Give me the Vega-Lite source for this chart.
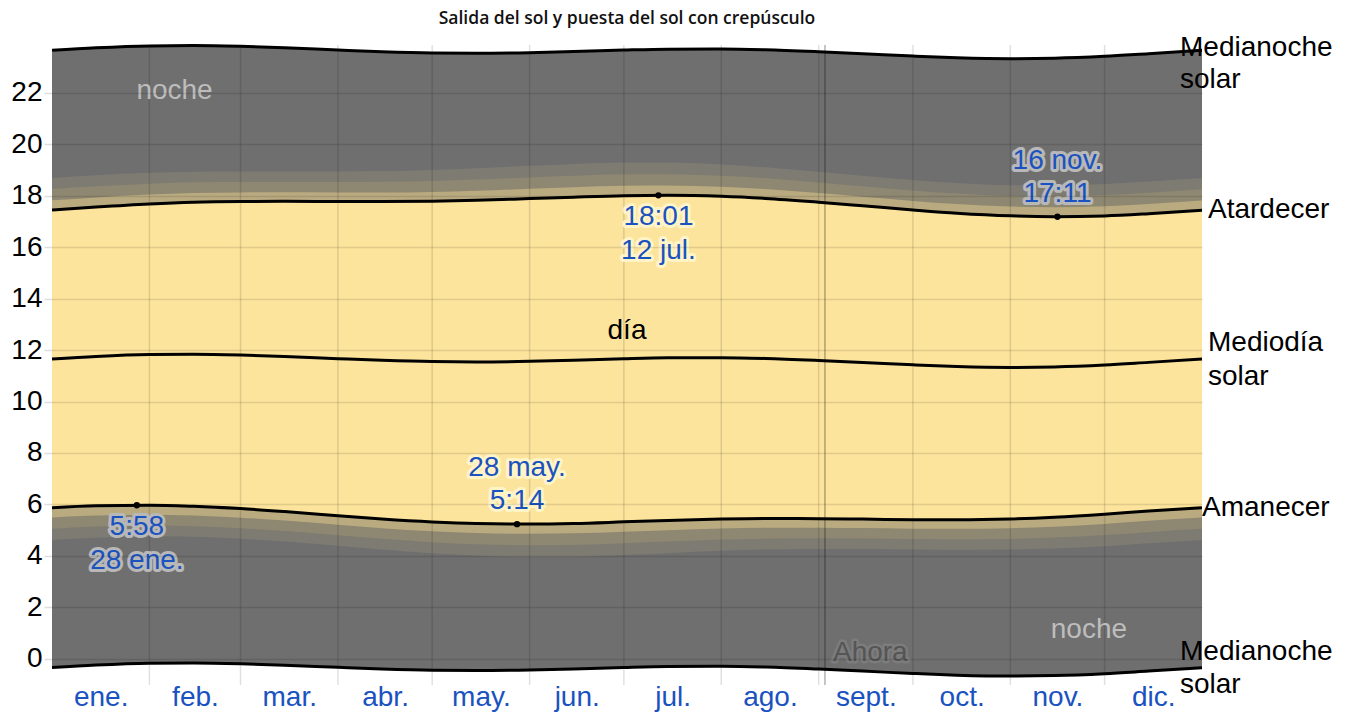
{
  "$schema": "https://vega.github.io/schema/vega-lite/v6.json",
  "width": 1150,
  "height": 640,
  "autosize": {"type": "none"},
  "padding": {"left": 52, "top": 45, "right": 152, "bottom": 27},
  "background": "white",
  "config": {"view": {"stroke": null}, "font": "Liberation Sans"},
  "title": {
    "text": "Salida del sol y puesta del sol con crepúsculo",
    "font": "Open Sans",
    "fontSize": 17.5,
    "fontWeight": 600,
    "color": "#111111",
    "anchor": "middle",
    "offset": 7
  },
  "datasets": {
    "sun": [
      {"date": "2024-01-01", "noon": 11.657, "sr": 5.873, "ss": 17.441, "cd": 5.494, "cu": 17.820, "nd": 5.056, "nu": 18.258, "ad": 4.620, "au": 18.694, "mlo": -0.343, "mhi": 23.657},
      {"date": "2024-01-15", "noon": 11.753, "sr": 5.946, "ss": 17.560, "cd": 5.572, "cu": 17.934, "nd": 5.139, "nu": 18.367, "ad": 4.709, "au": 18.797, "mlo": -0.247, "mhi": 23.753},
      {"date": "2024-02-01", "noon": 11.825, "sr": 5.968, "ss": 17.682, "cd": 5.603, "cu": 18.047, "nd": 5.181, "nu": 18.469, "ad": 4.760, "au": 18.890, "mlo": -0.175, "mhi": 23.825},
      {"date": "2024-02-15", "noon": 11.837, "sr": 5.925, "ss": 17.749, "cd": 5.568, "cu": 18.106, "nd": 5.154, "nu": 18.520, "ad": 4.741, "au": 18.933, "mlo": -0.163, "mhi": 23.837},
      {"date": "2024-03-01", "noon": 11.807, "sr": 5.837, "ss": 17.777, "cd": 5.485, "cu": 18.129, "nd": 5.077, "nu": 18.537, "ad": 4.669, "au": 18.945, "mlo": -0.193, "mhi": 23.807},
      {"date": "2024-03-15", "noon": 11.752, "sr": 5.721, "ss": 17.783, "cd": 5.371, "cu": 18.133, "nd": 4.965, "nu": 18.539, "ad": 4.559, "au": 18.945, "mlo": -0.248, "mhi": 23.752},
      {"date": "2024-04-01", "noon": 11.667, "sr": 5.559, "ss": 17.775, "cd": 5.208, "cu": 18.126, "nd": 4.800, "nu": 18.534, "ad": 4.390, "au": 18.944, "mlo": -0.333, "mhi": 23.667},
      {"date": "2024-04-15", "noon": 11.602, "sr": 5.432, "ss": 17.772, "cd": 5.077, "cu": 18.127, "nd": 4.662, "nu": 18.542, "ad": 4.245, "au": 18.959, "mlo": -0.398, "mhi": 23.602},
      {"date": "2024-05-01", "noon": 11.552, "sr": 5.319, "ss": 17.785, "cd": 4.955, "cu": 18.149, "nd": 4.531, "nu": 18.573, "ad": 4.103, "au": 19.001, "mlo": -0.448, "mhi": 23.552},
      {"date": "2024-05-15", "noon": 11.540, "sr": 5.258, "ss": 17.822, "cd": 4.887, "cu": 18.193, "nd": 4.452, "nu": 18.628, "ad": 4.012, "au": 19.068, "mlo": -0.460, "mhi": 23.540},
      {"date": "2024-06-01", "noon": 11.563, "sr": 5.238, "ss": 17.888, "cd": 4.858, "cu": 18.268, "nd": 4.413, "nu": 18.713, "ad": 3.961, "au": 19.165, "mlo": -0.437, "mhi": 23.563},
      {"date": "2024-06-15", "noon": 11.603, "sr": 5.260, "ss": 17.946, "cd": 4.876, "cu": 18.330, "nd": 4.426, "nu": 18.780, "ad": 3.968, "au": 19.238, "mlo": -0.397, "mhi": 23.603},
      {"date": "2024-07-01", "noon": 11.662, "sr": 5.322, "ss": 18.002, "cd": 4.939, "cu": 18.385, "nd": 4.489, "nu": 18.835, "ad": 4.033, "au": 19.291, "mlo": -0.338, "mhi": 23.662},
      {"date": "2024-07-15", "noon": 11.698, "sr": 5.379, "ss": 18.017, "cd": 5.000, "cu": 18.396, "nd": 4.556, "nu": 18.840, "ad": 4.106, "au": 19.290, "mlo": -0.302, "mhi": 23.698},
      {"date": "2024-08-01", "noon": 11.705, "sr": 5.433, "ss": 17.977, "cd": 5.064, "cu": 18.346, "nd": 4.632, "nu": 18.778, "ad": 4.195, "au": 19.215, "mlo": -0.295, "mhi": 23.705},
      {"date": "2024-08-15", "noon": 11.675, "sr": 5.454, "ss": 17.896, "cd": 5.092, "cu": 18.258, "nd": 4.670, "nu": 18.680, "ad": 4.245, "au": 19.105, "mlo": -0.325, "mhi": 23.675},
      {"date": "2024-09-01", "noon": 11.598, "sr": 5.447, "ss": 17.749, "cd": 5.093, "cu": 18.103, "nd": 4.681, "nu": 18.515, "ad": 4.267, "au": 18.929, "mlo": -0.402, "mhi": 23.598},
      {"date": "2024-09-15", "noon": 11.520, "sr": 5.429, "ss": 17.611, "cd": 5.079, "cu": 17.961, "nd": 4.672, "nu": 18.368, "ad": 4.264, "au": 18.776, "mlo": -0.480, "mhi": 23.520},
      {"date": "2024-10-01", "noon": 11.428, "sr": 5.407, "ss": 17.449, "cd": 5.057, "cu": 17.799, "nd": 4.651, "nu": 18.205, "ad": 4.245, "au": 18.611, "mlo": -0.572, "mhi": 23.428},
      {"date": "2024-10-15", "noon": 11.363, "sr": 5.404, "ss": 17.322, "cd": 5.051, "cu": 17.675, "nd": 4.642, "nu": 18.084, "ad": 4.233, "au": 18.493, "mlo": -0.637, "mhi": 23.363},
      {"date": "2024-11-01", "noon": 11.327, "sr": 5.436, "ss": 17.218, "cd": 5.076, "cu": 17.578, "nd": 4.660, "nu": 17.994, "ad": 4.244, "au": 18.410, "mlo": -0.673, "mhi": 23.327},
      {"date": "2024-11-15", "noon": 11.345, "sr": 5.504, "ss": 17.186, "cd": 5.136, "cu": 17.554, "nd": 4.711, "nu": 17.979, "ad": 4.287, "au": 18.403, "mlo": -0.655, "mhi": 23.345},
      {"date": "2024-12-01", "noon": 11.418, "sr": 5.619, "ss": 17.217, "cd": 5.243, "cu": 17.593, "nd": 4.809, "nu": 18.027, "ad": 4.377, "au": 18.459, "mlo": -0.582, "mhi": 23.418},
      {"date": "2024-12-15", "noon": 11.522, "sr": 5.742, "ss": 17.302, "cd": 5.362, "cu": 17.682, "nd": 4.923, "nu": 18.121, "ad": 4.487, "au": 18.557, "mlo": -0.478, "mhi": 23.522},
      {"date": "2025-01-01", "noon": 11.652, "sr": 5.868, "ss": 17.436, "cd": 5.489, "cu": 17.815, "nd": 5.051, "nu": 18.253, "ad": 4.615, "au": 18.689, "mlo": -0.348, "mhi": 23.652}
    ],
    "ext": [
      {"date": "2024-01-28", "value": 5.967, "text": "5:58\n28 ene.", "pos": "below", "zone": "noche"},
      {"date": "2024-05-28", "value": 5.233, "text": "28 may.\n5:14", "pos": "above", "zone": "dia"},
      {"date": "2024-07-12", "value": 18.017, "text": "18:01\n12 jul.", "pos": "below", "zone": "dia"},
      {"date": "2024-11-16", "value": 17.183, "text": "16 nov.\n17:11", "pos": "above", "zone": "noche"}
    ],
    "months": [
      {"date": "2024-02-01"}, {"date": "2024-03-01"}, {"date": "2024-04-01"}, {"date": "2024-05-01"},
      {"date": "2024-06-01"}, {"date": "2024-07-01"}, {"date": "2024-08-01"}, {"date": "2024-09-01"},
      {"date": "2024-10-01"}, {"date": "2024-11-01"}, {"date": "2024-12-01"}
    ]
  },
  "encoding": {
    "x": {
      "field": "date",
      "type": "temporal",
      "title": null,
      "scale": {
        "type": "utc",
        "domain": [
          {"year": 2024, "month": 1, "date": 1, "utc": true},
          {"year": 2025, "month": 1, "date": 1, "utc": true}
        ]
      },
      "axis": {
        "values": [
          {"year": 2024, "month": 1, "date": 16, "hours": 12, "utc": true},
          {"year": 2024, "month": 2, "date": 15, "hours": 12, "utc": true},
          {"year": 2024, "month": 3, "date": 16, "hours": 12, "utc": true},
          {"year": 2024, "month": 4, "date": 16, "utc": true},
          {"year": 2024, "month": 5, "date": 16, "hours": 12, "utc": true},
          {"year": 2024, "month": 6, "date": 16, "utc": true},
          {"year": 2024, "month": 7, "date": 16, "hours": 12, "utc": true},
          {"year": 2024, "month": 8, "date": 16, "hours": 12, "utc": true},
          {"year": 2024, "month": 9, "date": 16, "utc": true},
          {"year": 2024, "month": 10, "date": 16, "hours": 12, "utc": true},
          {"year": 2024, "month": 11, "date": 16, "utc": true},
          {"year": 2024, "month": 12, "date": 16, "hours": 12, "utc": true}
        ],
        "labelExpr": "['ene.','feb.','mar.','abr.','may.','jun.','jul.','ago.','sept.','oct.','nov.','dic.'][utcmonth(datum.value)]",
        "grid": false,
        "ticks": false,
        "tickSize": 0,
        "domain": false,
        "labelFont": "Liberation Sans",
        "labelFontSize": 28,
        "labelColor": "#1a52bf",
        "labelBaseline": "middle",
        "labelPadding": 12,
        "labelFlush": false,
        "labelOverlap": false
      }
    }
  },
  "layer": [
    {
      "data": {"name": "sun"},
      "mark": {"type": "area", "interpolate": "monotone", "color": "#6f6f6f"},
      "encoding": {
        "y": {
          "field": "mhi",
          "type": "quantitative",
          "title": null,
          "scale": {"domain": [-1.02, 23.86], "nice": false, "zero": false},
          "axis": {
            "values": [0, 2, 4, 6, 8, 10, 12, 14, 16, 18, 20, 22],
            "grid": true,
            "gridColor": "#000000",
            "gridOpacity": 0.11,
            "gridWidth": 1.5,
            "tickColor": "#000000",
            "tickOpacity": 0.13,
            "tickSize": 8,
            "tickWidth": 1.5,
            "domain": false,
            "labelFont": "Liberation Sans",
            "labelFontSize": 28,
            "labelColor": "#000000",
            "labelPadding": 2,
            "zindex": 1
          }
        },
        "y2": {"field": "mlo"}
      }
    },
    {
      "data": {"name": "sun"},
      "mark": {"type": "area", "interpolate": "monotone", "color": "#7e7b72"},
      "encoding": {
        "y": {"field": "ad", "type": "quantitative", "title": null, "scale": {"domain": [-1.02, 23.86], "nice": false, "zero": false}},
        "y2": {"field": "au"}
      }
    },
    {
      "data": {"name": "sun"},
      "mark": {"type": "area", "interpolate": "monotone", "color": "#8e8771"},
      "encoding": {
        "y": {"field": "nd", "type": "quantitative", "title": null, "scale": {"domain": [-1.02, 23.86], "nice": false, "zero": false}},
        "y2": {"field": "nu"}
      }
    },
    {
      "data": {"name": "sun"},
      "mark": {"type": "area", "interpolate": "monotone", "color": "#b9aa80"},
      "encoding": {
        "y": {"field": "cd", "type": "quantitative", "title": null, "scale": {"domain": [-1.02, 23.86], "nice": false, "zero": false}},
        "y2": {"field": "cu"}
      }
    },
    {
      "data": {"name": "sun"},
      "mark": {"type": "area", "interpolate": "monotone", "color": "#fce49d"},
      "encoding": {
        "y": {"field": "sr", "type": "quantitative", "title": null, "scale": {"domain": [-1.02, 23.86], "nice": false, "zero": false}},
        "y2": {"field": "ss"}
      }
    },
    {
      "data": {"name": "months"},
      "mark": {"type": "rule", "color": "#000000", "opacity": 0.12, "strokeWidth": 1.5},
      "encoding": {}
    },
    {
      "data": {"values": [{"date": "2024-09-03"}]},
      "mark": {"type": "rule", "color": "#000000", "opacity": 0.3, "strokeWidth": 1.5},
      "encoding": {}
    },
    {
      "data": {"name": "sun"},
      "mark": {"type": "line", "interpolate": "monotone", "color": "#000000", "strokeWidth": 3},
      "encoding": {"y": {"field": "mhi", "type": "quantitative", "title": null, "scale": {"domain": [-1.02, 23.86], "nice": false, "zero": false}}}
    },
    {
      "data": {"name": "sun"},
      "mark": {"type": "line", "interpolate": "monotone", "color": "#000000", "strokeWidth": 3},
      "encoding": {"y": {"field": "mlo", "type": "quantitative", "title": null, "scale": {"domain": [-1.02, 23.86], "nice": false, "zero": false}}}
    },
    {
      "data": {"name": "sun"},
      "mark": {"type": "line", "interpolate": "monotone", "color": "#000000", "strokeWidth": 3},
      "encoding": {"y": {"field": "noon", "type": "quantitative", "title": null, "scale": {"domain": [-1.02, 23.86], "nice": false, "zero": false}}}
    },
    {
      "data": {"name": "sun"},
      "mark": {"type": "line", "interpolate": "monotone", "color": "#000000", "strokeWidth": 3},
      "encoding": {"y": {"field": "sr", "type": "quantitative", "title": null, "scale": {"domain": [-1.02, 23.86], "nice": false, "zero": false}}}
    },
    {
      "data": {"name": "sun"},
      "mark": {"type": "line", "interpolate": "monotone", "color": "#000000", "strokeWidth": 3},
      "encoding": {"y": {"field": "ss", "type": "quantitative", "title": null, "scale": {"domain": [-1.02, 23.86], "nice": false, "zero": false}}}
    },
    {
      "data": {"name": "ext"},
      "mark": {"type": "point", "filled": true, "color": "#000000", "size": 40, "opacity": 1},
      "encoding": {"y": {"field": "value", "type": "quantitative", "title": null, "scale": {"domain": [-1.02, 23.86], "nice": false, "zero": false}}}
    },
    {
      "data": {"name": "ext"},
      "transform": [{"filter": "datum.pos === 'below'"}],
      "mark": {"type": "text", "font": "Liberation Sans", "fontSize": 28, "lineBreak": "\n", "lineHeight": 34, "align": "center", "baseline": "middle", "dy": 22, "fill": "#1a52bf", "strokeWidth": 6, "strokeJoin": "round"},
      "encoding": {
        "y": {"field": "value", "type": "quantitative", "title": null, "scale": {"domain": [-1.02, 23.86], "nice": false, "zero": false}},
        "text": {"field": "text", "type": "nominal"},
        "stroke": {"field": "zone", "type": "nominal", "scale": {"domain": ["noche", "dia"], "range": ["#b8b8b8", "#fff4c8"]}, "legend": null}
      }
    },
    {
      "data": {"name": "ext"},
      "transform": [{"filter": "datum.pos === 'below'"}],
      "mark": {"type": "text", "font": "Liberation Sans", "fontSize": 28, "lineBreak": "\n", "lineHeight": 34, "align": "center", "baseline": "middle", "dy": 22, "fill": "#1a52bf"},
      "encoding": {
        "y": {"field": "value", "type": "quantitative", "title": null, "scale": {"domain": [-1.02, 23.86], "nice": false, "zero": false}},
        "text": {"field": "text", "type": "nominal"}
      }
    },
    {
      "data": {"name": "ext"},
      "transform": [{"filter": "datum.pos === 'above'"}],
      "mark": {"type": "text", "font": "Liberation Sans", "fontSize": 28, "lineBreak": "\n", "lineHeight": 33, "align": "center", "baseline": "middle", "dy": -56, "fill": "#1a52bf", "strokeWidth": 6, "strokeJoin": "round"},
      "encoding": {
        "y": {"field": "value", "type": "quantitative", "title": null, "scale": {"domain": [-1.02, 23.86], "nice": false, "zero": false}},
        "text": {"field": "text", "type": "nominal"},
        "stroke": {"field": "zone", "type": "nominal", "scale": {"domain": ["noche", "dia"], "range": ["#b8b8b8", "#fff4c8"]}, "legend": null}
      }
    },
    {
      "data": {"name": "ext"},
      "transform": [{"filter": "datum.pos === 'above'"}],
      "mark": {"type": "text", "font": "Liberation Sans", "fontSize": 28, "lineBreak": "\n", "lineHeight": 33, "align": "center", "baseline": "middle", "dy": -56, "fill": "#1a52bf"},
      "encoding": {
        "y": {"field": "value", "type": "quantitative", "title": null, "scale": {"domain": [-1.02, 23.86], "nice": false, "zero": false}},
        "text": {"field": "text", "type": "nominal"}
      }
    },
    {
      "data": {"values": [{"date": "2025-01-01", "value": 23.652, "text": "Medianoche\nsolar"}]},
      "mark": {"type": "text", "font": "Liberation Sans", "fontSize": 28, "lineBreak": "\n", "lineHeight": 32, "align": "left", "baseline": "middle", "dx": -22, "dy": -2, "color": "#000000"},
      "encoding": {
        "y": {"field": "value", "type": "quantitative", "title": null, "scale": {"domain": [-1.02, 23.86], "nice": false, "zero": false}},
        "text": {"field": "text", "type": "nominal"}
      }
    },
    {
      "data": {"values": [{"date": "2025-01-01", "value": 17.436, "text": "Atardecer"}]},
      "mark": {"type": "text", "font": "Liberation Sans", "fontSize": 28, "align": "left", "baseline": "middle", "dx": 6, "color": "#000000"},
      "encoding": {
        "y": {"field": "value", "type": "quantitative", "title": null, "scale": {"domain": [-1.02, 23.86], "nice": false, "zero": false}},
        "text": {"field": "text", "type": "nominal"}
      }
    },
    {
      "data": {"values": [{"date": "2025-01-01", "value": 11.652, "text": "Mediodía\nsolar"}]},
      "mark": {"type": "text", "font": "Liberation Sans", "fontSize": 28, "lineBreak": "\n", "lineHeight": 34, "align": "left", "baseline": "middle", "dx": 6, "dy": -16, "color": "#000000"},
      "encoding": {
        "y": {"field": "value", "type": "quantitative", "title": null, "scale": {"domain": [-1.02, 23.86], "nice": false, "zero": false}},
        "text": {"field": "text", "type": "nominal"}
      }
    },
    {
      "data": {"values": [{"date": "2025-01-01", "value": 5.868, "text": "Amanecer"}]},
      "mark": {"type": "text", "font": "Liberation Sans", "fontSize": 28, "align": "left", "baseline": "middle", "dx": 0, "color": "#000000"},
      "encoding": {
        "y": {"field": "value", "type": "quantitative", "title": null, "scale": {"domain": [-1.02, 23.86], "nice": false, "zero": false}},
        "text": {"field": "text", "type": "nominal"}
      }
    },
    {
      "data": {"values": [{"date": "2025-01-01", "value": -0.348, "text": "Medianoche\nsolar"}]},
      "mark": {"type": "text", "font": "Liberation Sans", "fontSize": 28, "lineBreak": "\n", "lineHeight": 33, "align": "left", "baseline": "middle", "dx": -22, "dy": -16, "color": "#000000"},
      "encoding": {
        "y": {"field": "value", "type": "quantitative", "title": null, "scale": {"domain": [-1.02, 23.86], "nice": false, "zero": false}},
        "text": {"field": "text", "type": "nominal"}
      }
    },
    {
      "data": {"values": [{"date": "2024-02-09", "value": 22.07, "text": "noche"}, {"date": "2024-11-26", "value": 1.13, "text": "noche"}]},
      "mark": {"type": "text", "font": "Liberation Sans", "fontSize": 28, "align": "center", "baseline": "middle", "color": "#bdbdbd"},
      "encoding": {
        "y": {"field": "value", "type": "quantitative", "title": null, "scale": {"domain": [-1.02, 23.86], "nice": false, "zero": false}},
        "text": {"field": "text", "type": "nominal"}
      }
    },
    {
      "data": {"values": [{"date": "2024-07-02", "value": 12.75, "text": "día"}]},
      "mark": {"type": "text", "font": "Liberation Sans", "fontSize": 28, "align": "center", "baseline": "middle", "color": "#000000"},
      "encoding": {
        "y": {"field": "value", "type": "quantitative", "title": null, "scale": {"domain": [-1.02, 23.86], "nice": false, "zero": false}},
        "text": {"field": "text", "type": "nominal"}
      }
    },
    {
      "data": {"values": [{"date": "2024-09-03", "value": 0.23, "text": "Ahora"}]},
      "mark": {"type": "text", "font": "Liberation Sans", "fontSize": 28, "align": "left", "baseline": "middle", "dx": 8, "fill": "#555555", "stroke": "#7c7c7c", "strokeWidth": 5, "strokeJoin": "round"},
      "encoding": {
        "y": {"field": "value", "type": "quantitative", "title": null, "scale": {"domain": [-1.02, 23.86], "nice": false, "zero": false}},
        "text": {"field": "text", "type": "nominal"}
      }
    },
    {
      "data": {"values": [{"date": "2024-09-03", "value": 0.23, "text": "Ahora"}]},
      "mark": {"type": "text", "font": "Liberation Sans", "fontSize": 28, "align": "left", "baseline": "middle", "dx": 8, "fill": "#555555"},
      "encoding": {
        "y": {"field": "value", "type": "quantitative", "title": null, "scale": {"domain": [-1.02, 23.86], "nice": false, "zero": false}},
        "text": {"field": "text", "type": "nominal"}
      }
    }
  ]
}
